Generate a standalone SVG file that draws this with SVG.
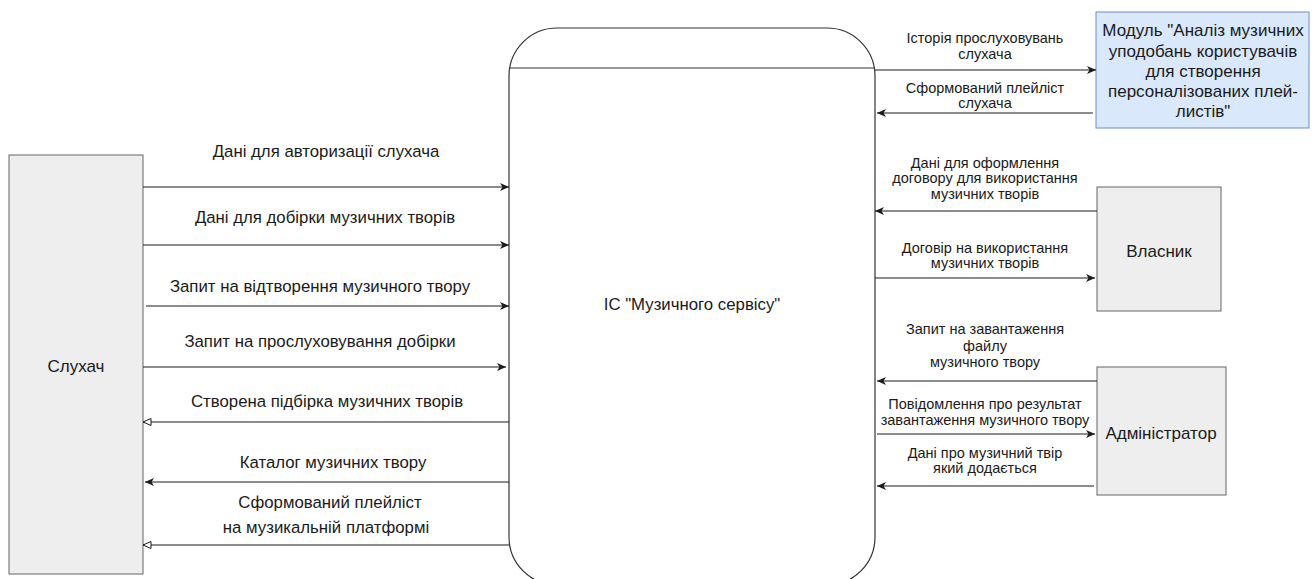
<svg xmlns="http://www.w3.org/2000/svg" width="1315" height="579" viewBox="0 0 1315 579">
<style>
text{font-family:"Liberation Sans",Arial,sans-serif;fill:#1a1a1a;text-anchor:middle}
.l{font-size:16.8px}
.r{font-size:14.5px}
.n{font-size:17px}
.box{fill:#eeeeee;stroke:#666666;stroke-width:1}
.c{stroke:#1a1a1a;stroke-width:1.2;fill:none}
</style>
<defs>
<marker id="a" markerWidth="10" markerHeight="10" refX="9" refY="5" orient="auto" markerUnits="userSpaceOnUse">
<path d="M0,1 L9,5 L0,9 L2.5,5 z" fill="#1a1a1a"/>
</marker>
<marker id="o" markerWidth="10" markerHeight="10" refX="9" refY="5" orient="auto" markerUnits="userSpaceOnUse">
<path d="M1,1.5 L9,5 L1,8.5 z" fill="#fff" stroke="#1a1a1a" stroke-width="1"/>
</marker>
</defs>
<rect width="1315" height="579" fill="#ffffff"/>
<g id="system">
<rect x="509" y="28" width="366" height="557" rx="48" ry="48" fill="#ffffff" stroke="#333333" stroke-width="1.2"/>
<line x1="509" y1="68" x2="875" y2="68" stroke="#333333" stroke-width="1.2"/>
<text class="l" x="692" y="310">ІС "Музичного сервісу"</text>
</g>
<g id="listener">
<rect class="box" x="9" y="155" width="134" height="419"/>
<text class="n" x="76" y="372">Слухач</text>
</g>
<g id="module">
<rect x="1096" y="12" width="213" height="116" fill="#dae8fc" stroke="#6c8ebf" stroke-width="1"/>
<text class="n" x="1203" y="36">Модуль "Аналіз музичних</text>
<text class="n" x="1203" y="56.5">уподобань користувачів</text>
<text class="n" x="1203" y="76.5">для створення</text>
<text class="n" x="1203" y="97">персоналізованих плей-</text>
<text class="n" x="1203" y="117">листів"</text>
</g>
<g id="owner">
<rect class="box" x="1097" y="187" width="124" height="124"/>
<text class="n" x="1159" y="257">Власник</text>
</g>
<g id="admin">
<rect class="box" x="1097" y="367" width="129" height="128"/>
<text class="n" x="1161" y="439">Адміністратор</text>
</g>
<g id="connectors">
<line class="c" x1="143" y1="187" x2="509" y2="187" marker-end="url(#a)"/>
<line class="c" x1="143" y1="245" x2="509" y2="245" marker-end="url(#a)"/>
<line class="c" x1="146" y1="306" x2="509" y2="306" marker-end="url(#a)"/>
<line class="c" x1="143" y1="367" x2="506" y2="367" marker-end="url(#a)"/>
<line class="c" x1="509" y1="422" x2="143" y2="422" marker-end="url(#o)"/>
<line class="c" x1="509" y1="482" x2="145" y2="482" marker-end="url(#a)"/>
<line class="c" x1="509" y1="545" x2="143" y2="545" marker-end="url(#o)"/>
<line class="c" x1="875" y1="70" x2="1096" y2="70" marker-end="url(#a)"/>
<line class="c" x1="1093" y1="113" x2="877" y2="113" marker-end="url(#a)"/>
<line class="c" x1="1097" y1="211" x2="875" y2="211" marker-end="url(#a)"/>
<line class="c" x1="875" y1="278" x2="1095" y2="278" marker-end="url(#a)"/>
<line class="c" x1="1097" y1="381" x2="877" y2="381" marker-end="url(#a)"/>
<line class="c" x1="877" y1="434" x2="1095" y2="434" marker-end="url(#a)"/>
<line class="c" x1="1094" y1="486" x2="877" y2="486" marker-end="url(#a)"/>
</g>
<g id="labels">
<text class="l" x="326" y="157">Дані для авторизації слухача</text>
<text class="l" x="325" y="223">Дані для добірки музичних творів</text>
<text class="l" x="320" y="292">Запит на відтворення музичного твору</text>
<text class="l" x="320" y="347">Запит на прослуховування добірки</text>
<text class="l" x="327" y="407">Створена підбірка музичних творів</text>
<text class="l" x="333" y="468">Каталог музичних твору</text>
<text class="l" x="330" y="508">Сформований плейліст</text>
<text class="l" x="326" y="533">на музикальній платформі</text>
<text class="r" x="985" y="43">Історія прослуховувань</text>
<text class="r" x="985" y="59">слухача</text>
<text class="r" x="985" y="93">Сформований плейліст</text>
<text class="r" x="985" y="108">слухача</text>
<text class="r" x="985" y="168">Дані для оформлення</text>
<text class="r" x="985" y="183">договору для використання</text>
<text class="r" x="985" y="199">музичних творів</text>
<text class="r" x="985" y="253">Договір на використання</text>
<text class="r" x="985" y="268">музичних творів</text>
<text class="r" x="985" y="334">Запит на завантаження</text>
<text class="r" x="985" y="351">файлу</text>
<text class="r" x="985" y="367">музичного твору</text>
<text class="r" x="985" y="409">Повідомлення про результат</text>
<text class="r" x="985" y="425">завантаження музичного твору</text>
<text class="r" x="985" y="458">Дані про музичний твір</text>
<text class="r" x="985" y="473">який додається</text>
</g>
</svg>
